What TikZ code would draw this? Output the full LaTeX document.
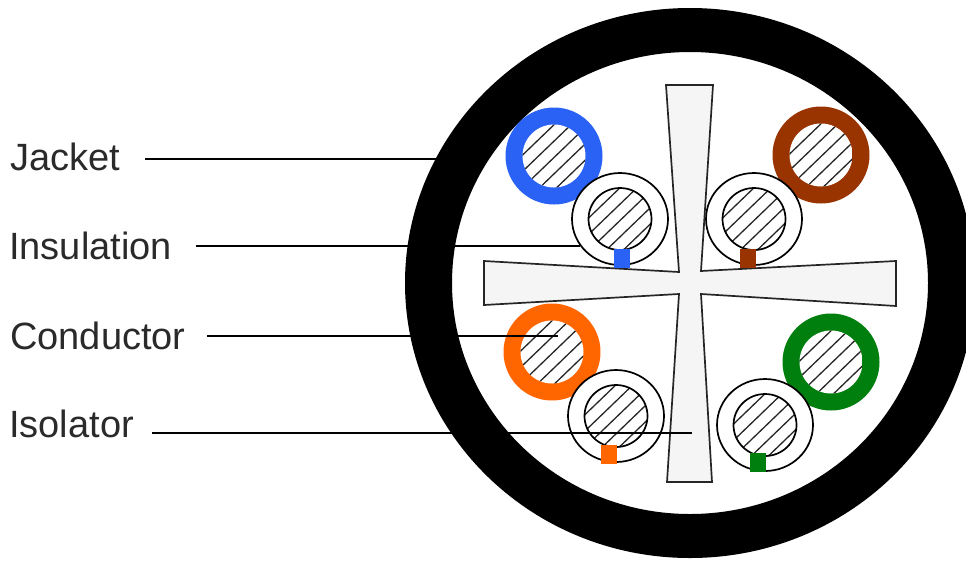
\documentclass[tikz,border=0pt]{standalone}
\usepackage{fontspec}
\usetikzlibrary{shapes.geometric}
\setmainfont{Liberation Sans}
\definecolor{wblue}{HTML}{2A62F5}
\definecolor{wbrown}{HTML}{993300}
\definecolor{worange}{HTML}{FF6600}
\definecolor{wgreen}{HTML}{007F0E}
\definecolor{xfill}{HTML}{F5F5F5}
\definecolor{txt}{HTML}{2A2A2A}
\tikzset{
  leader/.style={draw=black,line width=1.8pt},
  lbl/.style={anchor=base west,inner sep=0pt,font=\fontsize{38}{38}\selectfont,text=txt},
  sheath/.style={ellipse,draw=black,line width=1.7pt,fill=white,minimum width=96pt,minimum height=92pt,inner sep=0pt},
  core/.style={ellipse,draw=black,line width=1.7pt,minimum width=63pt,minimum height=62pt,inner sep=0pt},
  hatchline/.style={draw=black!85,line width=1.3pt},
}
\newcommand{\hatchcore}[2]{%
  \begin{scope}
    \clip (#1,#2) circle[radius=31.5];
    \fill[white] (#1-32,#2-32) rectangle (#1+32,#2+32);
    \foreach \d in {-51,-34,-17,0,17,34,51}{
      \draw[hatchline] (#1+\d-40,#2+40) -- (#1+\d+40,#2-37);
    }
  \end{scope}}
\newcommand{\colwire}[4]{%
  \node[circle,fill=#2,minimum size=97pt,inner sep=0pt] (#1) at (#3,#4) {};
  \hatchcore{#3}{#4}}
\newcommand{\whitewire}[6]{%
  \node[sheath] (#1) at (#3,#4) {};
  \hatchcore{#3}{#4}
  \node[core] (#1c) at (#3,#4) {};
  \fill[#2] (#5-8,#6-9.5) rectangle (#5+8,#6+9.5);}
\begin{document}
\begin{tikzpicture}[x=1pt,y=-1pt]
\useasboundingbox (0,0) rectangle (966,560);
\clip (0,0) rectangle (966,560);
\fill[white] (0,0) rectangle (966,560);
% jacket
\fill[black,even odd rule] (690,283) ellipse[x radius=285,y radius=275]
                           (690,283) ellipse[x radius=238,y radius=231];
% isolator
\draw[fill=xfill,draw=black!85,line width=1.7pt,line join=miter]
  (666,85) -- (713,85) -- (701,271) -- (896,261) -- (896,306) -- (701,294)
  -- (712,482) -- (667,482) -- (679,294) -- (484,305) -- (484,261) -- (679,272) -- cycle;
% wires
\colwire{bluew}{wblue}{554}{156}
\colwire{brownw}{wbrown}{821}{155}
\colwire{orangew}{worange}{552}{352}
\colwire{greenw}{wgreen}{831}{362}
\whitewire{bluei}{wblue}{620}{219}{622}{258.5}
\whitewire{browni}{wbrown}{754}{219}{748}{258.5}
\whitewire{orangei}{worange}{616}{416}{609}{454}
\whitewire{greeni}{wgreen}{765}{425}{758}{462.5}
% labels
\node[lbl] (jacket) at (10,170) {Jacket};
\node[lbl] (insulation) at (9,259) {Insulation};
\node[lbl] (conductor) at (10,349) {Conductor};
\node[lbl] (isolator) at (9,437) {Isolator};
% leader ends
\coordinate (ja) at (145,159); \coordinate (jb) at (437,159);
\coordinate (ia) at (196,246); \coordinate (ib) at (580,246);
\coordinate (ca) at (207,336); \coordinate (cb) at (558,336);
\coordinate (sa) at (152,433); \coordinate (sb) at (692,433);
\draw[leader] (ja) -- (jb);
\draw[leader] (ia) -- (ib);
\draw[leader] (ca) -- (cb);
\draw[leader] (sa) -- (sb);
\end{tikzpicture}
\end{document}
